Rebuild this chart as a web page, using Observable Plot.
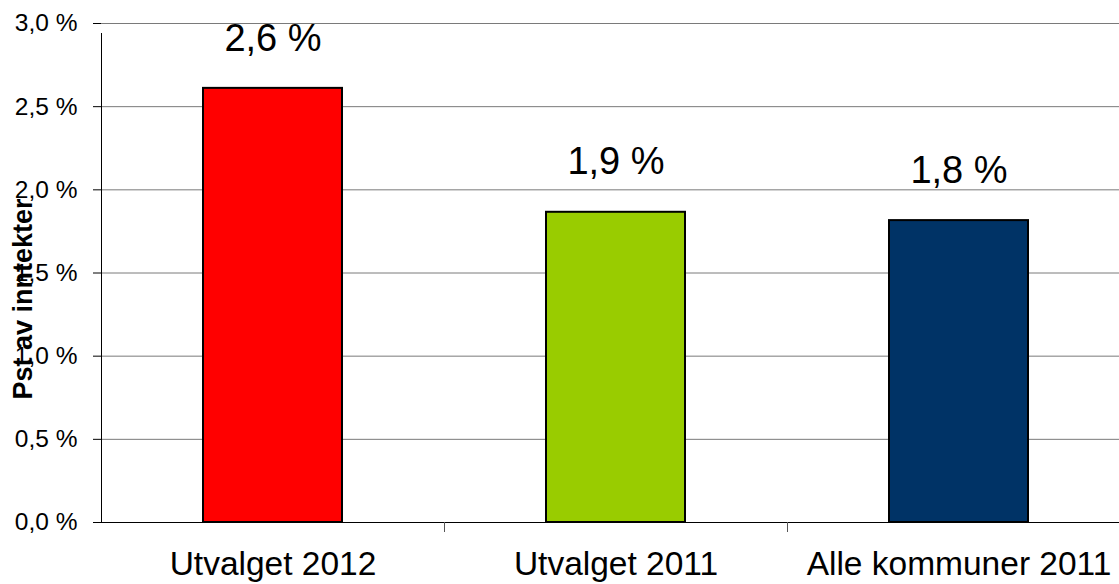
<!DOCTYPE html>
<html>
<head>
<meta charset="utf-8">
<script src="https://cdn.jsdelivr.net/npm/d3@7"></script>
<script src="https://cdn.jsdelivr.net/npm/@observablehq/plot@0.6"></script>
<style>
  html, body { margin: 0; padding: 0; background: #fff; }
  #chart { width: 1119px; height: 584px; overflow: hidden; }
</style>
</head>
<body>
<div id="chart"></div>
<script>
const categories = ["Utvalget 2012", "Utvalget 2011", "Alle kommuner 2011"];
const values = [2.61, 1.865, 1.815];
const valueLabels = ["2,6 %", "1,9 %", "1,8 %"];
const colors = ["#ff0000", "#99cc00", "#003366"];
const yTicks = [0, 0.5, 1.0, 1.5, 2.0, 2.5, 3.0];
const yTitle = "Pst av inntekter";

const data = categories.map((c, i) => ({cat: c, value: values[i], label: valueLabels[i], color: colors[i]}));

const W = 1119, H = 584, ML = 101, MT = 23, MB = 62;
const xEnd = 1130;
const step = (xEnd - ML) / categories.length;
const font = "'Liberation Sans', Arial, Helvetica, sans-serif";

const chart = Plot.plot({
  width: W,
  height: H,
  marginLeft: ML,
  marginRight: 0,
  marginTop: MT,
  marginBottom: MB,
  style: {fontFamily: font, color: "#000", background: "#fff", overflow: "hidden"},
  x: {domain: categories, range: [ML, xEnd], paddingInner: 0.595, paddingOuter: 0.2975, align: 0.5},
  y: {domain: [0, 3], range: [H - MB, MT]},
  marks: [
    Plot.ruleY(yTicks.filter(t => t > 0), {stroke: "#7a7a7a", strokeWidth: 1}),
    Plot.barY(data, {x: "cat", y: "value", fill: "color", stroke: "#000", strokeWidth: 2}),
    Plot.ruleY([0], {stroke: "#000", strokeWidth: 1}),
    Plot.ruleX([categories[0]], {x: d => d, y1: 0, y2: 3, dx: -step / 2, insetBottom: -10, stroke: "#000", strokeWidth: 1}),
    Plot.ruleX(categories.slice(1), {x: d => d, y1: 0, y2: 0, dx: -step / 2, insetBottom: -10, stroke: "#555", strokeWidth: 1}),
    Plot.axisY({ticks: yTicks, tickSize: 8, tickPadding: 16, fontSize: 24.5, stroke: "#000",
      tickFormat: d => d.toFixed(1).replace(".", ",") + " %", label: null}),
    Plot.axisX({tickSize: 0, tickPadding: 29, fontSize: 33.5, label: null}),
    Plot.text(data, {x: "cat", y: "value", text: "label", dy: -50, lineAnchor: "middle", fontSize: 38, fill: "#000"}),
    Plot.text([yTitle], {frameAnchor: "left", textAnchor: "middle", lineAnchor: "middle", rotate: -90, dx: -78, dy: 26, fontSize: 27, fontWeight: "bold", fill: "#000"})
  ]
});
document.getElementById("chart").appendChild(chart);
</script>
</body>
</html>
